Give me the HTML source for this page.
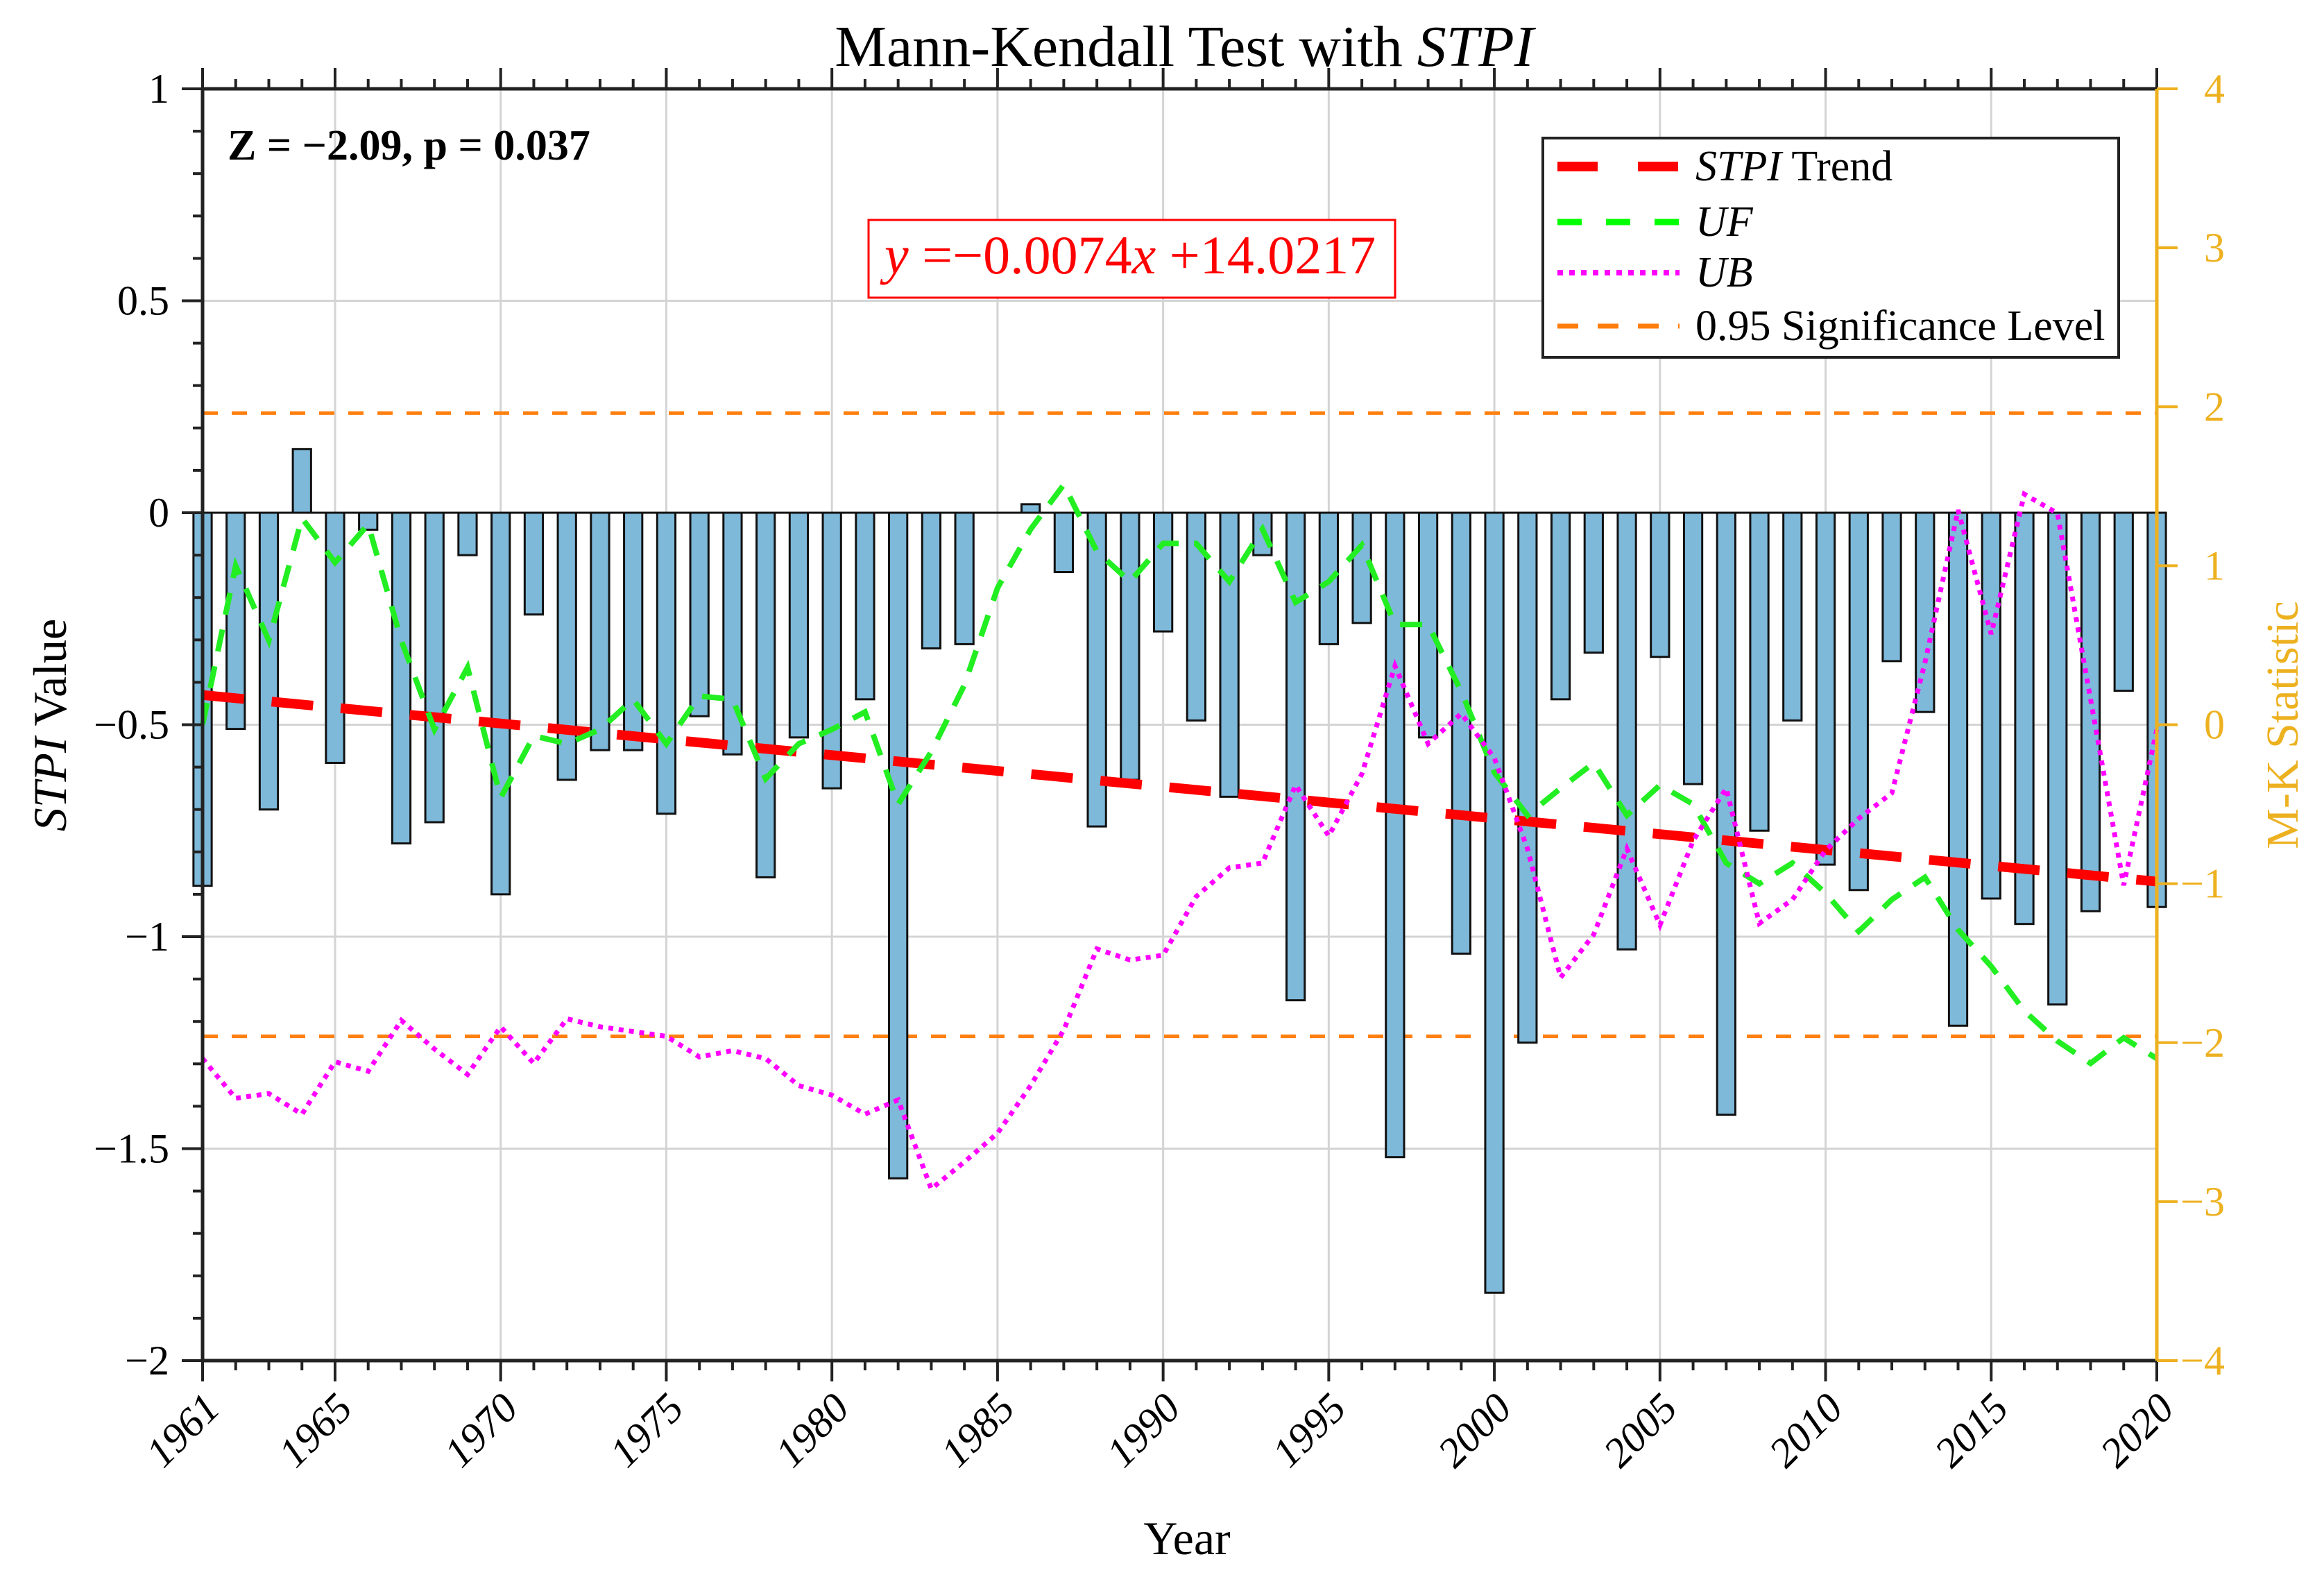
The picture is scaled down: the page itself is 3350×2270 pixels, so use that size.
<!DOCTYPE html>
<html><head><meta charset="utf-8">
<style>
html,body{margin:0;padding:0;background:#fff;}
svg{display:block;font-family:"Liberation Serif",serif;}
</style></head>
<body>
<svg id="chart" width="3350" height="2270" viewBox="0 0 3350 2270" xmlns="http://www.w3.org/2000/svg">
  <rect x="0" y="0" width="3350" height="2270" fill="#fff"/>
  <g id="grid"></g>
  <g id="sig"></g>
  <g id="bars"></g>
  <g id="lines"></g>
  <g id="axes"></g>
  <text x="1707" y="95" font-size="84" text-anchor="middle">Mann-Kendall Test with <tspan font-style="italic">STPI</tspan></text>
  <text x="328" y="230" font-size="62" font-weight="bold">Z = −2.09, p = 0.037</text>
  <rect x="1252" y="317" width="759" height="112" fill="#fff" stroke="#ff0000" stroke-width="3"/>
  <text x="1275" y="394" font-size="78" fill="#ff0000"><tspan font-style="italic">y</tspan> =−0.0074<tspan font-style="italic">x</tspan> +14.0217</text>
  <g id="legend">
    <rect x="2224" y="199" width="830" height="316" fill="#fff" stroke="#222" stroke-width="4"/>
    <line x1="2245" y1="240" x2="2421" y2="240" stroke="#ff0000" stroke-width="14" stroke-dasharray="58,58"/>
    <text x="2444" y="260" font-size="62"><tspan font-style="italic">STPI</tspan> Trend</text>
    <line x1="2245" y1="320" x2="2421" y2="320" stroke="#00ff00" stroke-width="9" stroke-dasharray="35,35"/>
    <text x="2444" y="340" font-size="62" font-style="italic">UF</text>
    <line x1="2245" y1="393" x2="2421" y2="393" stroke="#ff00ff" stroke-width="8" stroke-dasharray="8,9"/>
    <text x="2444" y="413" font-size="62" font-style="italic">UB</text>
    <line x1="2245" y1="470" x2="2421" y2="470" stroke="#ff7f0e" stroke-width="7" stroke-dasharray="30,28"/>
    <text x="2444" y="490" font-size="62">0.95 Significance Level</text>
  </g>
  <text x="1711" y="2240" font-size="68" text-anchor="middle">Year</text>
  <text transform="translate(95,1045) rotate(-90)" font-size="68" text-anchor="middle"><tspan font-style="italic">STPI</tspan> Value</text>
  <text transform="translate(3312,1045) rotate(-90)" font-size="66" text-anchor="middle" fill="#EDB120">M-K Statistic</text>
</svg>
<script>
const years = [];
for (let y = 1961; y <= 2020; y++) years.push(y);
const stpiValues = [-0.88,-0.51,-0.70,0.15,-0.59,-0.04,-0.78,-0.73,-0.10,-0.90,
 -0.24,-0.63,-0.56,-0.56,-0.71,-0.48,-0.57,-0.86,-0.53,-0.65,
 -0.44,-1.57,-0.32,-0.31,0.0,0.02,-0.14,-0.74,-0.63,-0.28,
 -0.49,-0.67,-0.10,-1.15,-0.31,-0.26,-1.52,-0.53,-1.04,-1.84,
 -1.25,-0.44,-0.33,-1.03,-0.34,-0.64,-1.42,-0.75,-0.49,-0.83,
 -0.89,-0.35,-0.47,-1.21,-0.91,-0.97,-1.16,-0.94,-0.42,-0.93];
const ufValues = [0,1.0,0.53,1.3,1.02,1.26,0.53,-0.03,0.36,-0.46,
 -0.07,-0.12,-0.03,0.16,-0.12,0.18,0.16,-0.34,-0.12,-0.03,
 0.08,-0.5,-0.17,0.25,0.86,1.23,1.51,1.09,0.9,1.14,
 1.14,0.9,1.23,0.77,0.9,1.13,0.63,0.63,0.21,-0.3,
 -0.57,-0.4,-0.24,-0.57,-0.38,-0.5,-0.87,-1.0,-0.87,-1.06,
 -1.3,-1.1,-0.96,-1.29,-1.52,-1.8,-1.99,-2.13,-1.97,-2.1];
const ubValues = [-2.1,-2.35,-2.32,-2.45,-2.12,-2.18,-1.86,-2.04,-2.2,-1.9,
 -2.13,-1.85,-1.9,-1.93,-1.96,-2.09,-2.05,-2.1,-2.27,-2.33,
 -2.45,-2.36,-2.92,-2.75,-2.57,-2.27,-1.92,-1.41,-1.48,-1.45,
 -1.08,-0.9,-0.87,-0.38,-0.7,-0.31,0.37,-0.12,0.07,-0.21,
 -0.78,-1.59,-1.32,-0.78,-1.26,-0.73,-0.4,-1.25,-1.1,-0.79,
 -0.59,-0.43,0.39,1.35,0.57,1.45,1.33,0.16,-1.01,-0.03];
const trendYears = [1961, 2020];
const trendValues = [-0.43, -0.87];
const sigLevels = [1.96, -1.96];
const xTickYears = [1961,1965,1970,1975,1980,1985,1990,1995,2000,2005,2010,2015,2020];
const leftTicks = [1,0.5,0,-0.5,-1,-1.5,-2];
const leftTickLabels = ["1","0.5","0","−0.5","−1","−1.5","−2"];
const rightTicks = [4,3,2,1,0,-1,-2,-3,-4];
const rightTickLabels = ["4","3","2","1","0","−1","−2","−3","−4"];

const L=292,R=3109,T=128,B=1961;
const X0=1961,X1=2020;
const xs = v => L + (v - X0) / (X1 - X0) * (R - L);
const yl = v => T + (1 - v) / 3 * (B - T);
const yr = v => T + (4 - v) / 8 * (B - T);
const NS="http://www.w3.org/2000/svg";
function mk(tag, attrs, parent){const e=document.createElementNS(NS,tag);for(const k in attrs)e.setAttribute(k,attrs[k]);parent.appendChild(e);return e;}
const grid=document.getElementById('grid'),bars=document.getElementById('bars'),lines=document.getElementById('lines'),axes=document.getElementById('axes'),sig=document.getElementById('sig');

xTickYears.forEach(yv=>{
  if(yv===X0||yv===X1)return;
  const g=mk('line',{x1:xs(yv),x2:xs(yv),y1:T,y2:B,stroke:'#d4d4d4','stroke-width':3},grid);
  
  
});
leftTicks.forEach(v=>{
  if(v===1||v===-2)return;
  const g=mk('line',{x1:L,x2:R,y1:yl(v),y2:yl(v),stroke:'#d4d4d4','stroke-width':3},grid);
  
  
});

sigLevels.forEach(v=>{
  const s=mk('line',{x1:L,x2:R,y1:yr(v),y2:yr(v),stroke:'#ff7f0e','stroke-width':5,'stroke-dasharray':'22,20'},sig);
  
  
});

const bw=0.55*(R-L)/(X1-X0);
years.forEach((yv,i)=>{
  const v=stpiValues[i];
  const y0=yl(0),y1=yl(v);
  const b=mk('rect',{x:xs(yv)-bw/2,y:Math.min(y0,y1),width:bw,height:Math.abs(y1-y0),fill:'#7EB9DA',stroke:'#111','stroke-width':3},bars);
  
  
});
const zl=mk('line',{x1:L,x2:R,y1:yl(0),y2:yl(0),stroke:'#111','stroke-width':3},bars);



const tr=mk('line',{x1:xs(trendYears[0]),y1:yl(trendValues[0]),x2:xs(trendYears[1]),y2:yl(trendValues[1]),stroke:'#ff0000','stroke-width':14,'stroke-dasharray':'60,40'},lines);


const uf=mk('polyline',{points:years.map((yv,i)=>xs(yv)+','+yr(ufValues[i])).join(' '),fill:'none',stroke:'#22ee22','stroke-width':8,'stroke-dasharray':'32,22'},lines);


const ub=mk('polyline',{points:years.map((yv,i)=>xs(yv)+','+yr(ubValues[i])).join(' '),fill:'none',stroke:'#ff00ff','stroke-width':7,'stroke-dasharray':'7,8'},lines);



const ax1=mk('line',{x1:L,x2:R,y1:T,y2:T,stroke:'#222','stroke-width':5},axes);


const ax2=mk('line',{x1:L,x2:R,y1:B,y2:B,stroke:'#222','stroke-width':5},axes);


const ax3=mk('line',{x1:L,x2:L,y1:T,y2:B,stroke:'#222','stroke-width':5},axes);


const ax4=mk('line',{x1:R,x2:R,y1:T,y2:B,stroke:'#EDB120','stroke-width':5},axes);



years.forEach(yv=>{
  const major=xTickYears.includes(yv);
  const len=major?30:14;
  const t1=mk('line',{x1:xs(yv),x2:xs(yv),y1:B,y2:B+len,stroke:'#222','stroke-width':4},axes);
  
  
  const t2=mk('line',{x1:xs(yv),x2:xs(yv),y1:T,y2:T-len,stroke:'#222','stroke-width':4},axes);
  
  
});
xTickYears.forEach(yv=>{
  const tx=mk('text',{x:0,y:0,'font-size':60,'font-style':'italic','text-anchor':'end',transform:'translate('+(xs(yv)+28)+','+(B+72)+') rotate(-45)'},axes);
  tx.textContent=yv;
  
  
});
for(let k=0;k<=30;k++){
  const v=1-k*0.1;
  const major=k%5===0;
  const len=major?30:14;
  const t=mk('line',{x1:L-len,x2:L,y1:yl(v),y2:yl(v),stroke:'#222','stroke-width':4},axes);
  
  
}
leftTicks.forEach((v,i)=>{
  const tx=mk('text',{x:L-48,y:yl(v)+20,'font-size':60,'text-anchor':'end'},axes);
  tx.textContent=leftTickLabels[i];
  
  
});
rightTicks.forEach((v,i)=>{
  const t=mk('line',{x1:R,x2:R+30,y1:yr(v),y2:yr(v),stroke:'#EDB120','stroke-width':4},axes);
  
  
  const tx=mk('text',{x:R+98,y:yr(v)+20,'font-size':60,'text-anchor':'end',fill:'#EDB120'},axes);
  tx.textContent=rightTickLabels[i];
  
  
});
</script>
</body></html>
